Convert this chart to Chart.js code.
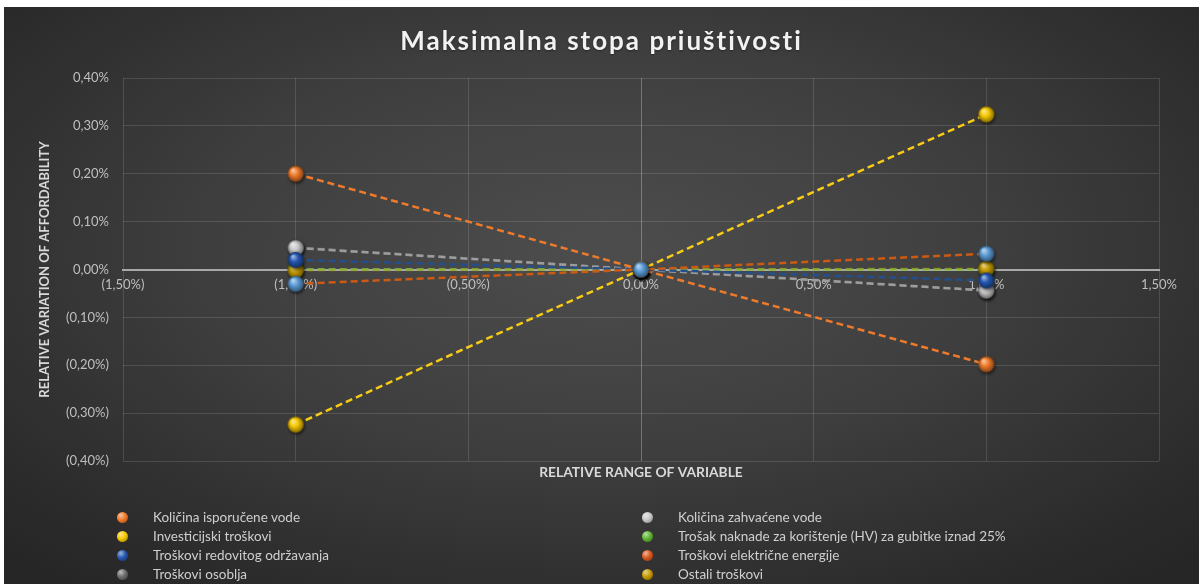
<!DOCTYPE html>
<html>
<head>
<meta charset="utf-8">
<script src="https://cdn.jsdelivr.net/npm/chart.js@4.4.1/dist/chart.umd.min.js"></script>
<style>
    html, body { margin: 0; padding: 0; background: #ffffff; overflow: hidden; }
    #wrap {
        position: absolute; left: 4px; top: 7px; width: 1195px; height: 577px;
        background: radial-gradient(ellipse 70% 75% at 50% 42%, #4d4d4d 0%, #3f3f3f 45%, #2c2c2c 85%, #262626 100%);
    }
    #title {
        position: absolute; left: 0; top: 17px; width: 100%; text-align: center;
        font: bold 26px Lato, sans-serif; letter-spacing: 2px; color: #f2f2f2;
        text-shadow: 0 1px 2px rgba(0,0,0,0.4);
    }
    #legend { position: absolute; left: 0; top: 0; width: 100%; height: 100%; pointer-events: none; }
    .lg-item { position: absolute; font: 13.5px Lato, sans-serif; color: #cfcfcf; white-space: nowrap; line-height: 16px; }
    .lg-dot { position: absolute; width: 11px; height: 11px; border-radius: 50%; }
</style>
</head>
<body>
<div id="wrap">
    <canvas id="sensitivityChart"></canvas>
    <div id="title">Maksimalna stopa priuštivosti</div>
    <div id="legend"></div>
</div>
<script>
const xValues = [-1, 0, 1];

const seriesNames = [
    'Količina isporučene vode',
    'Količina zahvaćene vode',
    'Investicijski troškovi',
    'Trošak naknade za korištenje (HV) za gubitke iznad 25%',
    'Troškovi redovitog održavanja',
    'Troškovi električne energije',
    'Troškovi osoblja',
    'Ostali troškovi'
];

const isporuceneVode = [0.200, 0, -0.198];
const zahvaceneVode = [0.045, 0, -0.044];
const investicijski = [-0.324, 0, 0.324];
const naknadaHV = [0, 0, 0];
const redovitoOdrzavanje = [0.020, 0, -0.023];
const elektricnaEnergija = [-0.030, 0, 0.033];
const osoblje = [0.046, 0, -0.044];
const ostaliTroskovi = [-0.002, 0, 0.002];

const seriesValues = [isporuceneVode, zahvaceneVode, investicijski, naknadaHV,
    redovitoOdrzavanje, elektricnaEnergija, osoblje, ostaliTroskovi];

const lineColors = ['#ee7b2c', 'rgba(170,170,170,0.75)', '#f7cb16', '#86c24a', '#244f8c', '#cc5a12', '#777777', 'rgba(168,130,0,0.3)'];
const markerColors = ['#f07a2a', '#c9c9c9', '#f5c800', '#5db532', '#2457b0', '#5b9bd5', '#6b6b6b', '#c49a00'];
const legendColors = ['#f07a2a', '#c9c9c9', '#f5c800', '#5db532', '#2457b0', '#d9581c', '#6b6b6b', '#c49a00'];
const drawOrder = [2, 4, 2, 4, 3, 1, 4, 3];

function mix(hex, target, t) {
    const a = parseInt(hex.slice(1), 16), b = parseInt(target.slice(1), 16);
    const ch = s => Math.round(((a >> s) & 255) * (1 - t) + ((b >> s) & 255) * t);
    return `rgb(${ch(16)},${ch(8)},${ch(0)})`;
}

// small glossy ball used as point style
function sphere(color, r) {
    const pad = 4;
    const c = document.createElement('canvas');
    c.width = c.height = (r + pad) * 2;
    const g = c.getContext('2d');
    const cx = r + pad, cy = r + pad;
    g.shadowColor = 'rgba(0,0,0,0.55)';
    g.shadowBlur = 3;
    g.shadowOffsetX = 1;
    g.shadowOffsetY = 2;
    const grad = g.createRadialGradient(cx - r * 0.35, cy - r * 0.45, r * 0.1, cx, cy, r);
    grad.addColorStop(0, mix(color, '#ffffff', 0.55));
    grad.addColorStop(0.45, color);
    grad.addColorStop(1, mix(color, '#000000', 0.45));
    g.fillStyle = grad;
    g.beginPath();
    g.arc(cx, cy, r, 0, Math.PI * 2);
    g.fill();
    return c;
}

function pct(v) {
    const s = Math.abs(v).toFixed(2).replace('.', ',') + '%';
    return v < -1e-9 ? '(' + s + ')' : s;
}

const datasets = seriesNames.map((name, i) => ({
    label: name,
    data: xValues.map((x, j) => ({ x, y: seriesValues[i][j] })),
    showLine: true,
    borderColor: lineColors[i],
    borderWidth: 2.5,
    borderDash: [7, 4],
    pointStyle: sphere(markerColors[i], 8),
    order: drawOrder[i]
}));

const tickColor = '#bfbfbf';
const gridColor = 'rgba(255,255,255,0.13)';

new Chart(document.getElementById('sensitivityChart'), {
    type: 'scatter',
    data: { datasets },
    options: {
        responsive: true,
        maintainAspectRatio: false,
        animation: false,
        layout: { padding: { left: 0, right: 40, top: 71, bottom: 93 } },
        plugins: {
            legend: { display: false },
            tooltip: { enabled: false },
            title: { display: false }
        },
        scales: {
            x: {
                type: 'linear',
                position: { y: 0 },
                min: -1.5, max: 1.5,
                ticks: { stepSize: 0.5, color: tickColor, padding: 8, font: { family: 'Lato', size: 13 }, callback: v => pct(v) },
                grid: {
                    drawTicks: false,
                    color: c => (c.tick && c.tick.value === 0) ? 'rgba(255,255,255,0.28)' : gridColor
                },
                border: { display: true, color: '#a8a8a8', width: 2 }
            },
            x2: {
                type: 'linear',
                position: 'bottom',
                min: -1.5, max: 1.5,
                ticks: { display: false },
                grid: { display: false },
                border: { display: false },
                title: {
                    display: true,
                    text: 'RELATIVE RANGE OF VARIABLE',
                    color: '#d9d9d9',
                    font: { family: 'Lato', size: 13.8, weight: 'bold' },
                    padding: { top: 0, bottom: 10 }
                },
                afterFit: s => { s.height = 30; }
            },
            y: {
                type: 'linear',
                min: -0.4, max: 0.4,
                ticks: { stepSize: 0.1, color: tickColor, padding: 14, font: { family: 'Lato', size: 13 }, callback: v => pct(v) },
                grid: { drawTicks: false, color: gridColor },
                border: { display: false },
                title: {
                    display: true,
                    text: 'RELATIVE VARIATION OF AFFORDABILITY',
                    color: '#d9d9d9',
                    font: { family: 'Lato', size: 13, weight: 'bold' },
                    padding: { top: 33, bottom: 0 }
                },
                afterFit: s => { s.width = 119; }
            }
        }
    }
});

// two-column legend below the plot
const legend = document.getElementById('legend');
seriesNames.forEach((name, i) => {
    const col = i % 2, row = Math.floor(i / 2);
    const cy = 510 + row * 19;
    const dot = document.createElement('span');
    dot.className = 'lg-dot';
    dot.style.left = (col ? 638 : 113) + 'px';
    dot.style.top = (cy - 5.5) + 'px';
    dot.style.background = `radial-gradient(circle at 35% 30%, ${mix(legendColors[i], '#ffffff', 0.55)} 0%, ${legendColors[i]} 45%, ${mix(legendColors[i], '#000000', 0.45)} 100%)`;
    legend.appendChild(dot);
    const txt = document.createElement('span');
    txt.className = 'lg-item';
    txt.style.left = (col ? 674 : 149) + 'px';
    txt.style.top = (cy - 8) + 'px';
    txt.textContent = name;
    legend.appendChild(txt);
});
</script>
</body>
</html>
